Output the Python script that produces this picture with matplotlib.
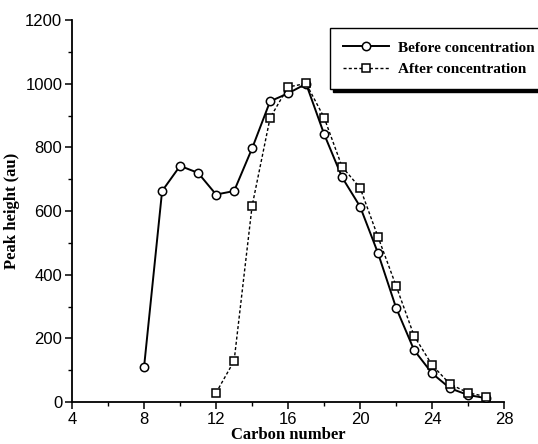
import matplotlib
matplotlib.use("Agg")
import matplotlib.pyplot as plt

before_x = [8, 9, 10, 11, 12, 13, 14, 15, 16, 17, 18, 19, 20, 21, 22, 23, 24, 25, 26, 27]
before_y = [111, 663, 742, 720, 652, 663, 797, 945, 970, 1000, 842, 706, 614, 467, 296, 163, 90, 43, 22, 12]
after_x = [12, 13, 14, 15, 16, 17, 18, 19, 20, 21, 22, 23, 24, 25, 26, 27]
after_y = [29, 129, 616, 893, 990, 1001, 894, 739, 673, 518, 365, 208, 116, 56, 29, 17]
xticks = [4, 8, 12, 16, 20, 24, 28]
yticks = [0, 200, 400, 600, 800, 1000, 1200]

fig = plt.figure(figsize=(5.38, 4.44), dpi=100)
ax = fig.add_axes([0.134, 0.0946, 0.803, 0.86])

ax.plot(before_x, before_y, '-', color='black', lw=1.4, marker='o', ms=6,
        mfc='white', mec='black', mew=1.1, label='Before concentration', zorder=3)
ax.plot(after_x, after_y, color='black', lw=1.0, ls=(0, (2.2, 1.6)), marker='s', ms=5.5,
        mfc='white', mec='black', mew=1.1, label='After concentration', zorder=4)

ax.set_xlim(4, 28)
ax.set_ylim(0, 1200)
ax.set_xticks(xticks)
ax.set_yticks(yticks)
ax.set_xticks(range(4, 29, 2), minor=True)
ax.set_yticks(range(0, 1201, 100), minor=True)
for s in ['top', 'right']:
    ax.spines[s].set_visible(False)
for s in ['left', 'bottom']:
    ax.spines[s].set_linewidth(1.3)
ax.tick_params(which='major', direction='out', length=5, width=1.1,
               labelsize=12, labelfontfamily='Liberation Sans', pad=2)
ax.tick_params(which='minor', direction='out', length=3, width=1.0)

lab_font = dict(family='Liberation Serif', weight='bold', size=12)
ax.set_xlabel('Carbon number', fontdict=lab_font, labelpad=0)
ax.set_ylabel('Peak height (au)', fontdict=lab_font, labelpad=4)

leg = ax.legend(loc='upper left', bbox_to_anchor=(330/538, 1 - 28/444),
                bbox_transform=fig.transFigure, frameon=True, fancybox=False,
                prop=dict(family='Liberation Serif', weight='bold', size=11),
                handlelength=3.0, handletextpad=0.6, borderpad=0.85, borderaxespad=0,
                labelspacing=0.5, shadow=dict(color='black', alpha=1),
                framealpha=1)
leg.get_frame().set_edgecolor('black')
leg.get_frame().set_linewidth(1.0)

fig.savefig('out.png', dpi=100)
